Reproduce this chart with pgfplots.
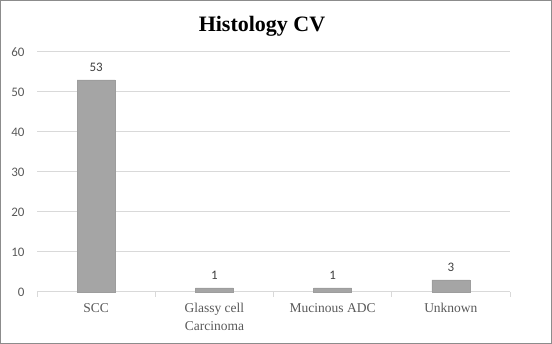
\documentclass[border=0pt]{standalone}
\usepackage{pgfplots}
\pgfplotsset{compat=1.18}
\usepackage{fontspec}
\setmainfont{Liberation Serif}
\newfontfamily\calib{Carlito}
\definecolor{bargray}{HTML}{A5A5A5}
\definecolor{gridgray}{HTML}{D9D9D9}
\definecolor{txtgray}{HTML}{595959}
\definecolor{lblgray}{HTML}{404040}
\begin{document}
\begin{tikzpicture}
\draw[color=gray!90, line width=1pt] (0.5pt,0.5pt) rectangle (551.5pt,343.5pt);
\node[font=\fontsize{22}{24}\selectfont\bfseries] at (262pt,318pt) {Histology CV};
\begin{axis}[
  at={(37pt,52pt)}, anchor=south west,
  scale only axis, width=473pt, height=240pt,
  xmin=-0.5, xmax=3.5, ymin=0, ymax=60,
  ytick={0,10,...,60},
  xtick={0,1,2,3},
  xticklabels={SCC,{Glassy cell\\Carcinoma},Mucinous ADC,Unknown},
  x tick label style={align=center, font=\fontsize{13.5}{18}\selectfont, text=txtgray, yshift=-8pt, anchor=north},
  y tick label style={font=\calib\fontsize{13}{15}\selectfont, text=txtgray, xshift=-9pt},
  /pgf/number format/assume math mode=true,
  minor xtick={-0.5,0.5,1.5,2.5,3.5},
  major tick length=0pt,
  minor tick length=5pt,
  minor tick style={color=gridgray, line width=0.8pt},
  xtick pos=bottom, ytick pos=left, tick align=outside,
  ymajorgrids, grid style={color=gridgray, line width=1pt},
  separate axis lines,
  x axis line style={draw=gridgray, line width=1pt},
  y axis line style={draw=none},
  axis x line*=bottom,
  axis y line*=left,
  ybar, bar width=38pt,
  nodes near coords,
  every node near coord/.append style={font=\calib\fontsize{13}{15}\selectfont, text=lblgray, yshift=5pt},
  clip=false,
]
\addplot[fill=bargray, draw=bargray!80!gray] coordinates {(0,53) (1,1) (2,1) (3,3)};
\end{axis}
\end{tikzpicture}
\end{document}
